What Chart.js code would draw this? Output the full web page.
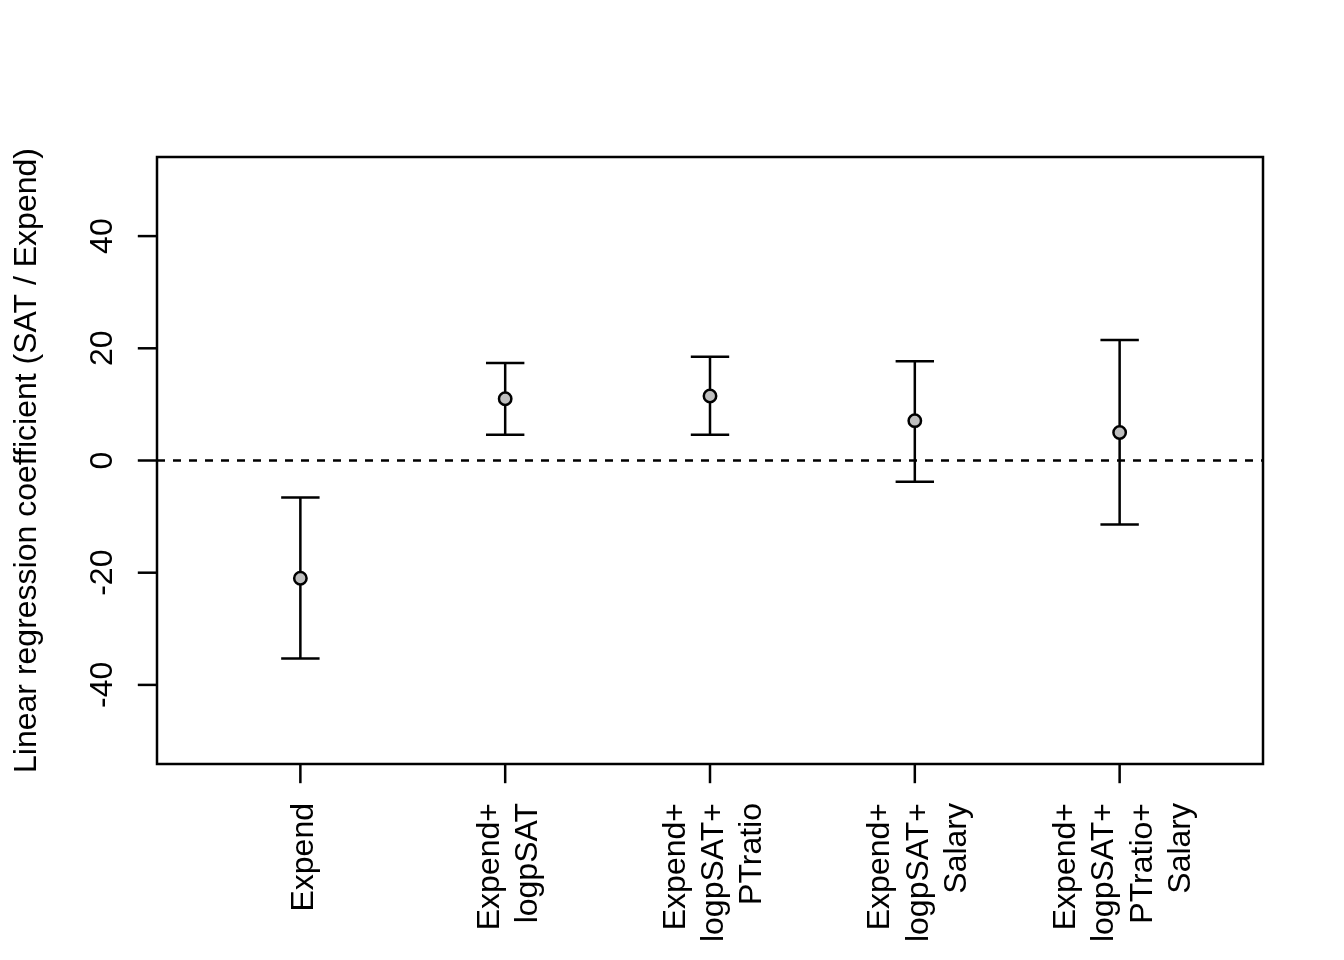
<!DOCTYPE html>
<html>
<head>
<meta charset="utf-8">
<script src="https://cdn.jsdelivr.net/npm/chart.js@4/dist/chart.umd.min.js"></script>
<style>
  html, body { margin: 0; padding: 0; background: #ffffff; }
  #c { display: block; }
</style>
</head>
<body>
<canvas id="c" width="1344" height="960"></canvas>
<script>
// ---- data ----
const categories = [
  ["Expend"],
  ["Expend+", "logpSAT"],
  ["Expend+", "logpSAT+", "PTratio"],
  ["Expend+", "logpSAT+", "Salary"],
  ["Expend+", "logpSAT+", "PTratio+", "Salary"]
];
const estimates = [-21.0, 11.0, 11.5, 7.1, 5.0];
const lowerCI = [-35.3, 4.6, 4.6, -3.8, -11.4];
const upperCI = [-6.6, 17.4, 18.5, 17.7, 21.5];
const yTicks = [-40, -20, 0, 20, 40];
const yTitle = "Linear regression coefficient (SAT / Expend)";

const FONT = '32px Arial, "Liberation Sans", sans-serif';
const LINE_H = 38.4;
const LW = 2.5;

const rPlot = {
  id: 'rPlot',
  beforeDraw(chart) {
    const ctx = chart.ctx;
    ctx.save();
    ctx.fillStyle = '#ffffff';
    ctx.fillRect(0, 0, chart.width, chart.height);
    ctx.restore();
  },
  beforeDatasetsDraw(chart) {
    const ctx = chart.ctx;
    const xs = chart.scales.x, ys = chart.scales.y;
    const a = chart.chartArea;
    ctx.save();
    // zero reference line
    const y0 = ys.getPixelForValue(0);
    ctx.strokeStyle = '#000';
    ctx.lineWidth = LW;
    ctx.setLineDash([8, 8]);
    ctx.beginPath();
    ctx.moveTo(a.left, y0);
    ctx.lineTo(a.right, y0);
    ctx.stroke();
    ctx.setLineDash([]);
    // error bars
    const cap = 19.2;
    for (let i = 0; i < estimates.length; i++) {
      const x = xs.getPixelForValue(i + 1);
      const yl = ys.getPixelForValue(lowerCI[i]);
      const yu = ys.getPixelForValue(upperCI[i]);
      ctx.beginPath();
      ctx.moveTo(x, yl); ctx.lineTo(x, yu);
      ctx.moveTo(x - cap, yl); ctx.lineTo(x + cap, yl);
      ctx.moveTo(x - cap, yu); ctx.lineTo(x + cap, yu);
      ctx.stroke();
    }
    ctx.restore();
  },
  afterDraw(chart) {
    const ctx = chart.ctx;
    const xs = chart.scales.x, ys = chart.scales.y;
    const a = chart.chartArea;
    ctx.save();
    ctx.strokeStyle = '#000';
    ctx.fillStyle = '#000';
    ctx.lineWidth = LW;
    // box
    ctx.strokeRect(a.left, a.top, a.right - a.left, a.bottom - a.top);
    // y ticks
    ctx.font = FONT;
    ctx.textAlign = 'center';
    ctx.textBaseline = 'alphabetic';
    yTicks.forEach(v => {
      const y = ys.getPixelForValue(v);
      ctx.beginPath();
      ctx.moveTo(a.left, y); ctx.lineTo(a.left - 19.2, y);
      ctx.stroke();
      ctx.save();
      ctx.translate(a.left - 45, y);
      ctx.rotate(-Math.PI / 2);
      ctx.fillText(String(v), 0, 0);
      ctx.restore();
    });
    // x ticks and labels
    categories.forEach((lines, i) => {
      const x = xs.getPixelForValue(i + 1);
      ctx.beginPath();
      ctx.moveTo(x, a.bottom); ctx.lineTo(x, a.bottom + 19.2);
      ctx.stroke();
      const n = lines.length;
      ctx.save();
      ctx.translate(x, a.bottom + 39);
      ctx.rotate(-Math.PI / 2);
      ctx.textAlign = 'right';
      ctx.textBaseline = 'alphabetic';
      lines.forEach((t, j) => {
        ctx.fillText(t, 0, 13 + (j - (n - 1) / 2) * LINE_H);
      });
      ctx.restore();
    });
    // y title
    ctx.save();
    ctx.translate(36, (a.top + a.bottom) / 2);
    ctx.rotate(-Math.PI / 2);
    ctx.textAlign = 'center';
    ctx.textBaseline = 'alphabetic';
    ctx.fillText(yTitle, 0, 0);
    ctx.restore();
    ctx.restore();
  }
};

new Chart(document.getElementById('c'), {
  type: 'scatter',
  data: {
    datasets: [{
      label: 'Estimate',
      data: estimates.map((v, i) => ({ x: i + 1, y: v })),
      pointRadius: 6.2,
      pointHoverRadius: 6.2,
      pointBackgroundColor: '#bebebe',
      pointBorderColor: '#000000',
      pointBorderWidth: 2.5,
      showLine: false
    }]
  },
  options: {
    responsive: false,
    animation: false,
    devicePixelRatio: 1,
    layout: { padding: { left: 157, top: 157, right: 81, bottom: 196 } },
    plugins: { legend: { display: false }, tooltip: { enabled: false }, title: { display: false } },
    events: [],
    scales: {
      x: { type: 'linear', min: 0.3, max: 5.7, display: false },
      y: { type: 'linear', min: -54.1, max: 54.1, display: false }
    }
  },
  plugins: [rPlot]
});
</script>
</body>
</html>
